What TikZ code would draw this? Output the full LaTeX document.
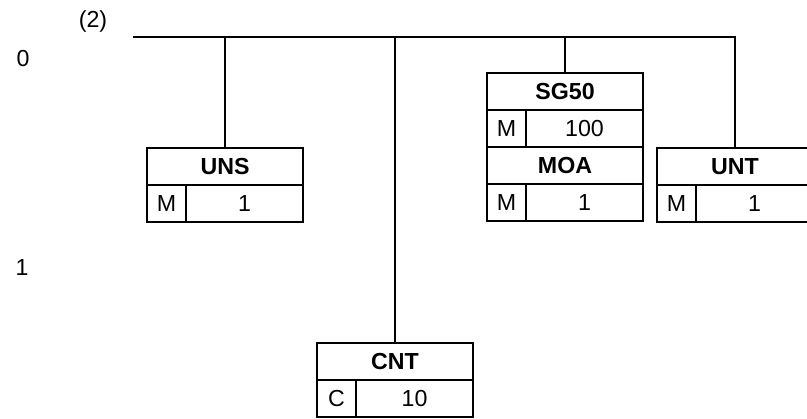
\documentclass[tikz,border=0pt]{standalone}
\usepackage{fontspec}
\setmainfont{Liberation Sans}
\begin{document}
\begin{tikzpicture}[x=0.5pt,y=-0.5pt,
  every node/.style={inner sep=0pt,outer sep=0pt,font=\fontsize{11.6}{13}\selectfont},
  cell/.style={draw,line width=0.75pt,minimum height=18.5pt},
  hdr/.style={cell,minimum width=78pt,font=\fontsize{11.6}{13}\selectfont\bfseries},
  stat/.style={cell,minimum width=19.5pt,anchor=north west},
  cnt/.style={cell,minimum width=58.5pt,anchor=north west},
  conn/.style={line width=0.75pt},
  lbl/.style={}]
\clip (0,0) rectangle (807,418);
\path[use as bounding box] (0,0) rectangle (807,418);
% labels
\node[lbl] (lev2) at (93,21) {(2)};
\node[lbl] (lev0) at (23,59) {0};
\node[lbl] (lev1) at (22,268) {1};
% trunk
\coordinate (tl) at (133,37);
\coordinate (tr) at (736,37);
\draw[conn] (tl) -- (tr);
% UNS
\node[hdr] (uns) at (225,166.5) {UNS};
\node[stat] (unsS) at (uns.south west) {M};
\node[cnt] (unsC) at (unsS.north east) {1};
% CNT
\node[hdr] (cnt) at (395,361.5) {CNT};
\node[stat] (cntS) at (cnt.south west) {C};
\node[cnt] (cntC) at (cntS.north east) {10};
% SG50
\node[hdr] (sg) at (565,91.5) {SG50};
\node[stat] (sgS) at (sg.south west) {M};
\node[cnt] (sgC) at (sgS.north east) {100};
\node[hdr,anchor=north west] (moa) at (sgS.south west) {MOA};
\node[stat] (moaS) at (moa.south west) {M};
\node[cnt] (moaC) at (moaS.north east) {1};
% UNT
\node[hdr] (unt) at (735,166.5) {UNT};
\node[stat] (untS) at (unt.south west) {M};
\node[cnt] (untC) at (untS.north east) {1};
% connectors
\draw[conn] (uns.north) -- (uns.north |- tl);
\draw[conn] (cnt.north) -- (cnt.north |- tl);
\draw[conn] (sg.north) -- (sg.north |- tl);
\draw[conn] (unt.north) -- (unt.north |- tl);
\end{tikzpicture}
\end{document}
